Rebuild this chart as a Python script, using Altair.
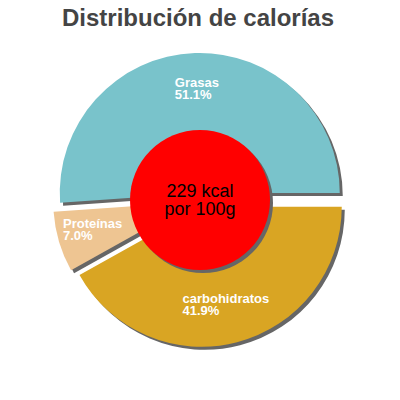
import math
import altair as alt
import pandas as pd

# ---- data (clockwise from 3 o'clock) ----
title_text = ["Distribución de calorías"]
names = ["carbohidratos", "Proteínas", "Grasas"]
percents = [41.9, 7.0, 51.1]
colors = ["#D9A523", "#EEC592", "#79C3CB"]
kcal_values = [229]
per_text = ["por 100g"]

# ---- layout / style ----
CX, CY = 192, 192          # pie centre in view coordinates
R = 140                    # outer radius
R_CENTER = 70              # red centre disc radius
EXPLODE = 7                # slice explosion distance
SH = 3                     # shadow offset
LABEL_R = 103
FONT = "Liberation Sans"

df = pd.DataFrame({"name": names, "pct": percents, "order": list(range(len(names)))})

base = (
    alt.Chart(df)
    .transform_window(end="sum(pct)", sort=[alt.SortField("order")], frame=[None, 0])
    .transform_calculate(start="datum.end - datum.pct")
    .transform_calculate(mid="PI/2 + (datum.end - datum.pct/2) / 100 * 2 * PI")
    .transform_calculate(cx=f"{CX} + {EXPLODE} * sin(datum.mid)")
    .transform_calculate(cy=f"{CY} - {EXPLODE} * cos(datum.mid)")
    .transform_calculate(sx=f"datum.cx + {SH}", sy=f"datum.cy + {SH}")
    .transform_calculate(lx=f"datum.cx + {LABEL_R} * sin(datum.mid) - length(datum.name) * 3.4")
    .transform_calculate(ly=f"datum.cy - {LABEL_R} * cos(datum.mid)")
    .transform_calculate(label="datum.name + '\\n' + format(datum.pct, '.1f') + '%'")
)

theta_scale = alt.Scale(domain=[0, 100], range=[math.pi / 2, math.pi / 2 + 2 * math.pi])

shadows = base.mark_arc(outerRadius=R, color="#666666").encode(
    x=alt.X("sx:Q", scale=None),
    y=alt.Y("sy:Q", scale=None),
    theta=alt.Theta("start:Q", scale=theta_scale),
    theta2="end:Q",
)

slices = base.mark_arc(outerRadius=R).encode(
    x=alt.X("cx:Q", scale=None),
    y=alt.Y("cy:Q", scale=None),
    theta=alt.Theta("start:Q", scale=theta_scale),
    theta2="end:Q",
    color=alt.Color("name:N", scale=alt.Scale(domain=names, range=colors), legend=None),
)

labels = base.mark_text(
    align="left", baseline="alphabetic", dx=-1, dy=-3, lineBreak="\n", lineHeight=12,
    font=FONT, fontSize=13, fontWeight="bold", color="white",
).encode(
    x=alt.X("lx:Q", scale=None),
    y=alt.Y("ly:Q", scale=None),
    text="label:N",
)

cdf = pd.DataFrame({"kcal": kcal_values, "per": per_text})
center = alt.Chart(cdf).transform_calculate(
    txt="datum.kcal + ' kcal\\n' + datum.per"
)

disc_size = (2 * R_CENTER) ** 2
circle_shadow = center.mark_circle(size=disc_size, color="#666666", opacity=1).encode(
    x=alt.value(CX + SH), y=alt.value(CY + SH)
)
circle = center.mark_circle(size=disc_size, color="#FF0000", opacity=1).encode(
    x=alt.value(CX), y=alt.value(CY)
)
center_text = center.mark_text(
    align="center", baseline="alphabetic", lineBreak="\n", lineHeight=18,
    font=FONT, fontSize=18, color="black", dy=-3.5,
).encode(x=alt.value(CX), y=alt.value(CY), text="txt:N")

title = alt.Chart(pd.DataFrame({"t": title_text})).mark_text(
    align="center", baseline="alphabetic", font=FONT, fontSize=24, fontWeight="bold",
    color="#444444",
).encode(x=alt.value(CX - 2), y=alt.value(18), text="t:N")

chart = (
    alt.layer(shadows, slices, labels, circle_shadow, circle, center_text, title)
    .properties(
        width=384,
        height=384,
        padding=0,
        autosize=alt.AutoSizeParams(type="none"),
    )
    .configure_view(strokeWidth=0)
)

chart.save("out.html", embed_options={"renderer": "svg", "actions": False})
